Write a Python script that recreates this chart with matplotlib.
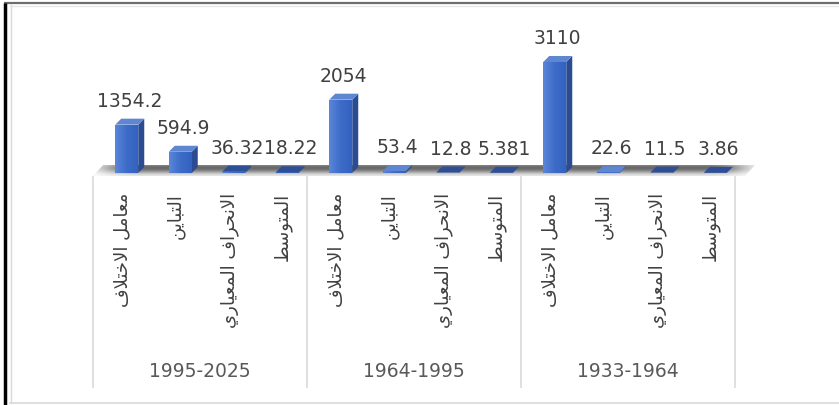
import numpy as np
import matplotlib
matplotlib.use("Agg")
import matplotlib.pyplot as plt
from matplotlib.patches import Polygon, Rectangle
from matplotlib.transforms import blended_transform_factory

# statistics per period (three periods, four measures each)
periods = ["1995-2025", "1964-1995", "1933-1964"]
measures = ["معامل الاختلاف", "التباين", "الانحراف المعياري", "المتوسط"]
values_1995_2025 = [1354.2, 594.9, 36.32, 18.22]
values_1964_1995 = [2054, 53.4, 12.8, 5.381]
values_1933_1964 = [3110, 22.6, 11.5, 3.86]
value_text = ["1354.2", "594.9", "36.32", "18.22",
              "2054", "53.4", "12.8", "5.381",
              "3110", "22.6", "11.5", "3.86"]

values = values_1995_2025 + values_1964_1995 + values_1933_1964

# --- very small arabic shaper (presentation forms + visual order) ---
FORMS = {
    "ا": (0xFE8D, False), "أ": (0xFE83, False), "ب": (0xFE8F, True),
    "ت": (0xFE95, True), "ح": (0xFEA1, True), "خ": (0xFEA5, True),
    "ر": (0xFEAD, False), "س": (0xFEB1, True), "ط": (0xFEC1, True),
    "ع": (0xFEC9, True), "ف": (0xFED1, True), "ل": (0xFEDD, True),
    "م": (0xFEE1, True), "ن": (0xFEE5, True), "و": (0xFEED, False),
    "ي": (0xFEF1, True),
}


def shape(word):
    out = []
    i = 0
    while i < len(word):
        c = word[i]
        if c not in FORMS:
            out.append(c)
            i += 1
            continue
        prev = word[i - 1] if i > 0 else None
        joins_prev = prev in FORMS and FORMS[prev][1]
        nxt = word[i + 1] if i + 1 < len(word) else None
        if c == "ل" and nxt in ("ا", "أ"):
            code = 0xFEFB if nxt == "ا" else 0xFEF7
            out.append(chr(code + (1 if joins_prev else 0)))
            i += 2
            continue
        base, dual = FORMS[c]
        joins_next = dual and nxt in FORMS
        if joins_prev and joins_next:
            k = 3
        elif joins_prev:
            k = 1
        elif joins_next:
            k = 2
        else:
            k = 0
        out.append(chr(base + k))
        i += 1
    return "".join(reversed(out))


plt.rcParams["font.family"] = ["DejaVu Sans"]

W, H = 839, 406
fig = plt.figure(figsize=(W / 100, H / 100), dpi=100)

# pixel-space layer for frame, floor and category table
ax = fig.add_axes([0, 0, 1, 1])
ax.set_xlim(0, W)
ax.set_ylim(H, 0)
ax.axis("off")

# outer frame
ax.plot([4, W], [4, 4], color="#6e6e6e", lw=1.6, solid_capstyle="butt")
ax.plot([5, 5], [4, H], color="black", lw=2.5, solid_capstyle="butt")
ax.plot([10.5, 10.5], [6, 404], color="#d9d9d9", lw=1)
ax.plot([10, W], [6.5, 6.5], color="#e6e6e6", lw=1)
ax.plot([10, W], [404, 404], color="#d9d9d9", lw=1.2)

# bar layer
plot_left, plot_right = 93, 735
base_px, top_px = 174, 40
YMAX = 3754
bx = fig.add_axes([plot_left / W, (H - base_px) / H,
                   (plot_right - plot_left) / W, (base_px - top_px) / H])
bx.set_xlim(-0.5, 11.5)
bx.set_ylim(0, YMAX)
bx.axis("off")

px_x = (plot_right - plot_left) / 12.0
px_y = (base_px - top_px) / YMAX
SHIFT = 7 / px_x
BW = 23 / px_x
DX = 6 / px_x
DY = 6 / px_y

# floor of the 3-D plot: soft grey shading, fading at both ends
floor = Polygon([(93, 177), (745, 177), (755, 166), (103, 166)],
                closed=True, facecolor="none", edgecolor="none")
ax.add_patch(floor)
rows = np.array([0.55, 0.42, 0.40, 0.48, 0.62, 0.78, 0.90])
cols = np.ones(60)
cols[:4] = [0.15, 0.45, 0.75, 0.92]
cols[-4:] = [0.92, 0.75, 0.45, 0.15]
shade = 1 - (1 - rows[:, None]) * cols[None, :]
im = ax.imshow(shade, cmap="gray", vmin=0, vmax=1, extent=[88, 760, 177, 165],
               aspect="auto", interpolation="bicubic", zorder=1)
im.set_clip_path(floor)

front_cmap = matplotlib.colors.LinearSegmentedColormap.from_list(
    "front", ["#5a86d8", "#3d6cc8", "#3262c0"])

x = np.arange(len(values))
for i, v in enumerate(values):
    x0 = x[i] + SHIFT - BW / 2
    front = Rectangle((x0, 0), BW, v, facecolor="#3d6cc8", edgecolor="none",
                      clip_on=False, zorder=3)
    bx.add_patch(front)
    if v * px_y > 1:
        g = bx.imshow(np.linspace(0, 1, 32)[None, :], cmap=front_cmap,
                      extent=[x0, x0 + BW, 0, v], aspect="auto",
                      interpolation="bicubic", zorder=3.1, clip_on=True)
        g.set_clip_path(front)
    side = Polygon([(x0 + BW, 0), (x0 + BW, v), (x0 + BW + DX, v + DY),
                    (x0 + BW + DX, DY)], closed=True, facecolor="#2b4c93",
                   edgecolor="none", clip_on=False, zorder=2.9)
    bx.add_patch(side)
    top_col = "#5f86d0" if i % 4 < 2 else "#2e4f96"
    top = Polygon([(x0, v), (x0 + BW, v), (x0 + BW + DX, v + DY),
                   (x0 + DX, v + DY)], closed=True, facecolor=top_col,
                  edgecolor="none", clip_on=False, zorder=3.2)
    bx.add_patch(top)
    bx.annotate(value_text[i], xy=(x[i] + SHIFT, v), xytext=(3, 19),
                textcoords="offset pixels", ha="center", va="baseline",
                fontsize=13.5, color="#404040", annotation_clip=False)

bx.set_xlim(-0.5, 11.5)
bx.set_ylim(0, YMAX)

# category table below the floor
trans = blended_transform_factory(bx.transData, ax.transData)
for b in [-0.5, 3.5, 7.5, 11.5]:
    ax.plot([b, b], [178, 388], color="#d9d9d9", lw=1.2, transform=trans)

for g, period in enumerate(periods):
    for j, m in enumerate(measures):
        ax.text(g * 4 + j + 0.05, 193, shape(m), rotation=90, ha="center",
                va="top", fontsize=13, color="#404040", transform=trans)
    ax.text(g * 4 + 1.5, 372, period, ha="center", va="center",
            fontsize=13.5, color="#595959", transform=trans)

fig.savefig("out.png", dpi=100)
